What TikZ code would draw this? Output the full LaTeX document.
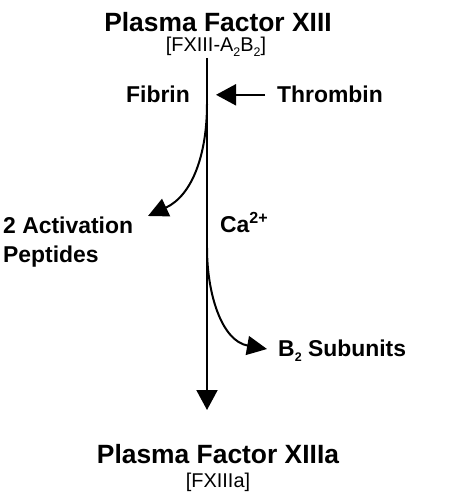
\documentclass[tikz,border=0pt]{standalone}
\usepackage{fontspec}
\setmainfont{Liberation Sans}
\usetikzlibrary{arrows.meta}
\newcommand{\lowidx}[1]{\raisebox{-0.45ex}{\fontsize{12.5}{12.5}\selectfont #1}}

\begin{document}
\begin{tikzpicture}[x=1bp, y=-1bp,
	every node/.style={inner sep=0pt, anchor=base},
	title/.style={font=\bfseries\fontsize{26.5}{30}\selectfont},
	subtitle/.style={font=\fontsize{20}{23}\selectfont},
	label/.style={font=\bfseries\fontsize{23}{29}\selectfont},
	flow/.style={line width=2bp, -{Triangle[length=20bp, width=21bp]}},
	branch/.style={line width=2bp, -{Triangle[length=20bp, width=19bp]}}
]
\useasboundingbox (0,0) rectangle (474,493);

\node[title](fxiii) at(218,32) {Plasma Factor XIII};
\node[subtitle](fxiiiab) at(216,52) {[FXIII-A\lowidx{2}B\lowidx{2}]};
\node[title](fxiiia) at(218,463) {Plasma Factor XIIIa};
\node[subtitle](fxiiiaa) at(218,487) {[FXIIIa]};

\node[label, anchor=base east](fib) at(190,103) {Fibrin};
\node[label, anchor=base west](thr) at(277,103) {Thrombin};
\node[label, anchor=base west](ca) at(220,232) {Ca\textsuperscript{2+}};
\node[label, anchor=base west, align=left](pep) at(3,262) {2 Activation\\Peptides};
\node[label, anchor=base west](sub) at(278,356) {B\lowidx{2} Subunits};

\coordinate(top) at(207,58);
\coordinate(tip) at(207,410);
\coordinate(b1) at(207,104);
\coordinate(b2) at(207,248);
\coordinate(e1) at(148,216);
\coordinate(e2) at(267,349);

\draw[flow] (top) -- (tip);
\draw[flow] (thr.west) ++(-12bp,0) -- (thr.west -| 216,0);
\draw[branch] (b1) to[out=-90, in=25] (e1);
\draw[branch] (b2) to[out=-90, in=170] (e2);

\end{tikzpicture}
\end{document}
